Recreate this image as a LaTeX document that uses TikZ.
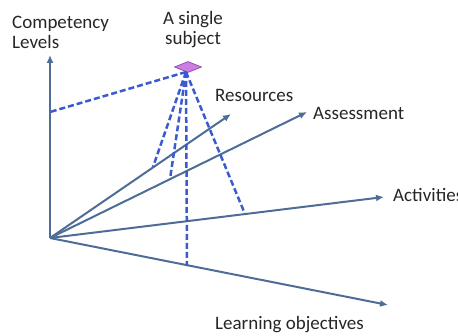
\documentclass[tikz,border=0pt]{standalone}
\usepackage{fontspec}
\setmainfont{Carlito}
\usetikzlibrary{arrows.meta,shapes.geometric}
\definecolor{axiscol}{HTML}{4E6D96}
\definecolor{dashcol}{HTML}{3A5BD0}
\definecolor{blobfill}{HTML}{CC7FE0}
\definecolor{blobline}{HTML}{9A4DB5}
\definecolor{txt}{HTML}{262626}
\tikzset{
  axis/.style={draw=axiscol, line width=2pt, -{Latex[length=8pt,width=7pt]}},
  proj/.style={draw=dashcol, line width=2.5pt, dash pattern=on 6pt off 3pt},
  lbl/.style={text=txt, inner sep=0pt, font=\fontsize{19}{20}\selectfont, align=left},
  blob/.style={diamond, aspect=2.6, fill=blobfill, draw=blobline, line width=0.8pt, minimum width=27pt, minimum height=11pt, inner sep=0pt}
}
\begin{document}
\begin{tikzpicture}[x=1pt,y=-1pt]
\useasboundingbox (0,0) rectangle (458,336);
\clip (0,0) rectangle (458,336);
% axes
\coordinate (O) at (50,238);
\coordinate (cl) at (50,55);
\coordinate (res) at (231,114);
\coordinate (ass) at (307,112);
\coordinate (act) at (384,197);
\coordinate (lo) at (388,305);
\draw[axis] (O) -- (cl);
\draw[axis] (O) -- (res);
\draw[axis] (O) -- (ass);
\draw[axis] (O) -- (act);
\draw[axis] (O) -- (lo);
% projection feet
\coordinate (pcl) at (50,112);
\coordinate (pres) at (153,167);
\coordinate (pass) at (170,179);
\coordinate (plo) at (187,266);
\coordinate (pact) at (245,214);
% subject
\node[blob] (subj) at (188,67) {};
\coordinate (apex) at (186,72);
\draw[proj] (apex) -- (pcl);
\draw[proj] (apex) -- (pres);
\draw[proj] (apex) -- (pass);
\draw[proj] (apex) -- (plo);
\draw[proj] (apex) -- (pact);
% labels
\node[lbl, anchor=base west] (lcl) at (12,49) {Competency\\Levels};
\node[lbl, anchor=base, align=center] (lsubj) at (193,45) {A single\\subject};
\node[lbl, anchor=base west] (lres) at (215,102) {Resources};
\node[lbl, anchor=base west] (lass) at (313,120) {Assessment};
\node[lbl, anchor=base west] (lact) at (393,202) {Activities};
\node[lbl, anchor=base west] (llo) at (215,330) {Learning objectives};
\end{tikzpicture}
\end{document}
